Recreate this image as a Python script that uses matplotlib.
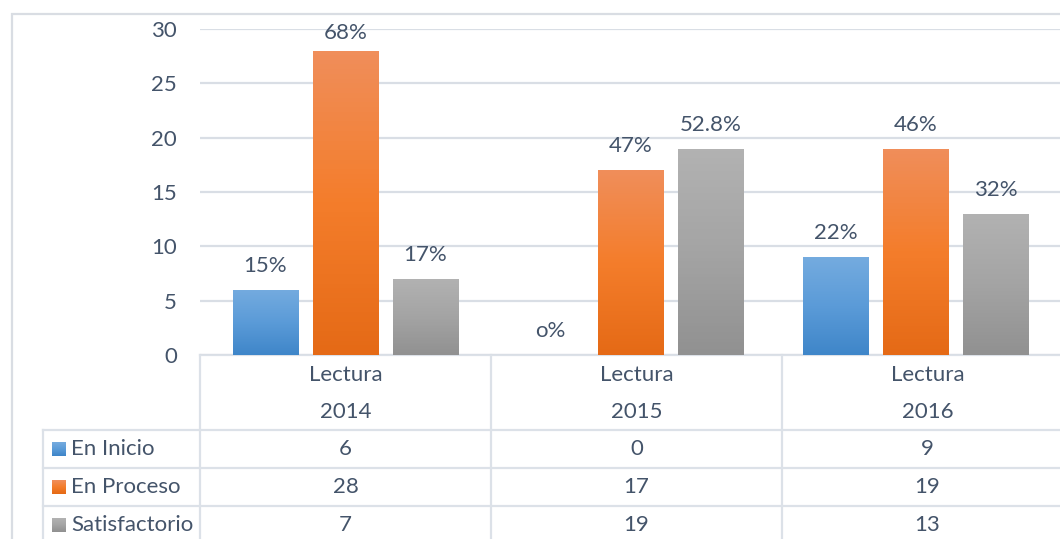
import matplotlib
matplotlib.use("Agg")
import matplotlib.pyplot as plt
import numpy as np
from matplotlib.colors import to_rgb

# ---------------- data ----------------
cat_line1 = ["Lectura", "Lectura", "Lectura"]
cat_years = ["2014", "2015", "2016"]
series_names = ["En Inicio", "En Proceso", "Satisfactorio"]
en_inicio = [6, 0, 9]
en_proceso = [28, 17, 19]
satisfactorio = [7, 19, 13]
pct_inicio = ["15%", "o%", "22%"]
pct_proceso = ["68%", "47%", "46%"]
pct_satisf = ["17%", "52.8%", "32%"]
y_ticks = [0, 5, 10, 15, 20, 25, 30]

values = [en_inicio, en_proceso, satisfactorio]
pcts = [pct_inicio, pct_proceso, pct_satisf]

# gradient colours (top, middle, bottom) per series
grads = [("#74ABDF", "#5B9BD8", "#3F86C9"),
         ("#F08E5A", "#F47D2B", "#E56A16"),
         ("#B2B2B2", "#A4A4A4", "#919191")]

TXT = "#44546A"
GRID = "#D9DEE5"
FONT = "Lato"
FS = 16

W, H = 1060, 539
fig = plt.figure(figsize=(W / 100, H / 100), dpi=100)
fig.patch.set_facecolor("white")

# full-figure axes in pixel coordinates for table & frame
tax = fig.add_axes([0, 0, 1, 1])
tax.set_xlim(0, W)
tax.set_ylim(H, 0)
tax.axis("off")

# bar axes
px_left, px_right, px_top, px_zero = 200, 1073, 29, 355
ax = fig.add_axes([px_left / W, (H - px_zero) / H, (px_right - px_left) / W, (px_zero - px_top) / H])
ax.set_facecolor("none")
c0, c2 = 345.5, 916.0
scale = (c2 - c0) / 2.0
ax.set_xlim((px_left - c0) / scale, (px_right - c0) / scale)
ax.set_ylim(0, 30)
ax.set_yticks(y_ticks)
ax.yaxis.grid(True, color=GRID, lw=1.6)
ax.set_axisbelow(True)
for s in ax.spines.values():
    s.set_visible(False)
ax.set_xticks([])
ax.tick_params(axis="y", length=0, pad=16.5, labelsize=FS, labelcolor=TXT)
for lab in ax.get_yticklabels():
    lab.set_fontfamily(FONT)

x = np.arange(len(cat_years))
offset = 80 / scale
width = 66 / scale
xlim = ax.get_xlim()
for i, (vals, lbls, g) in enumerate(zip(values, pcts, grads)):
    bars = ax.bar(x + (i - 1) * offset, vals, width=width, color=g[1], zorder=2)
    top, mid, bot = [np.array(to_rgb(c)) for c in g]
    n = 64
    t = np.linspace(0, 1, n)[:, None]
    colarr = np.where(t < 0.5, top + (mid - top) * (t / 0.5), mid + (bot - mid) * ((t - 0.5) / 0.5))
    img = colarr[:, None, :]
    for b, v, lb in zip(bars, vals, lbls):
        if v > 0:
            x0, y0 = b.get_x(), b.get_y()
            im = ax.imshow(img, extent=[x0, x0 + b.get_width(), y0, y0 + b.get_height()],
                           aspect="auto", origin="upper", zorder=3)
            im.set_clip_path(b)
        ly = v + 24 / 10.867
        ly = min(ly, 29.6)
        ax.text(b.get_x() + b.get_width() / 2, ly, lb, ha="center", va="center",
                fontsize=FS, color=TXT, fontfamily=FONT, zorder=4)
ax.set_xlim(xlim)
ax.set_ylim(0, 30)

# ---------------- outer frame ----------------
FR = "#D9DDE3"
tax.plot([11.5, 11.5], [13, H], color=FR, lw=1.6, solid_capstyle="butt")
tax.plot([11, W], [13.5, 13.5], color=FR, lw=1.6, solid_capstyle="butt")

# ---------------- data table ----------------
LC = "#DCE1E8"
t_left, col_w = 200, 291
t_top = 355
hdr_bot = 430
row_h = 38
leg_left = 43
ncol = len(cat_years)
# horizontal lines
tax.plot([t_left, W], [t_top, t_top], color=LC, lw=1.6)
for r in range(len(series_names) + 1):
    yy = hdr_bot + r * row_h
    tax.plot([leg_left, W], [yy, yy], color=LC, lw=1.6)
# vertical lines
tax.plot([leg_left, leg_left], [hdr_bot, H], color=LC, lw=1.6)
for c in range(ncol):
    xx = t_left + c * col_w
    tax.plot([xx, xx], [t_top, H], color=LC, lw=1.6)

for c in range(ncol):
    cx = t_left + (c + 0.5) * col_w
    tax.text(cx, 375, cat_line1[c], ha="center", va="center", fontsize=FS, color=TXT, fontfamily=FONT)
    tax.text(cx, 412, cat_years[c], ha="center", va="center", fontsize=FS, color=TXT, fontfamily=FONT)

for r, (name, vals, g) in enumerate(zip(series_names, values, grads)):
    cy = hdr_bot + (r + 0.5) * row_h
    top, mid, bot = [np.array(to_rgb(cc)) for cc in g]
    n = 16
    t = np.linspace(0, 1, n)[:, None]
    colarr = np.where(t < 0.5, top + (mid - top) * (t / 0.5), mid + (bot - mid) * ((t - 0.5) / 0.5))
    tax.imshow(colarr[:, None, :], extent=[52, 66, cy + 7, cy - 7], aspect="auto", origin="upper")
    tax.text(71, cy, name, ha="left", va="center", fontsize=FS, color=TXT, fontfamily=FONT)
    for c in range(ncol):
        cx = t_left + (c + 0.5) * col_w
        tax.text(cx, cy, str(vals[c]), ha="center", va="center", fontsize=FS, color=TXT, fontfamily=FONT)
tax.set_xlim(0, W)
tax.set_ylim(H, 0)

fig.savefig("out.png", dpi=100)
